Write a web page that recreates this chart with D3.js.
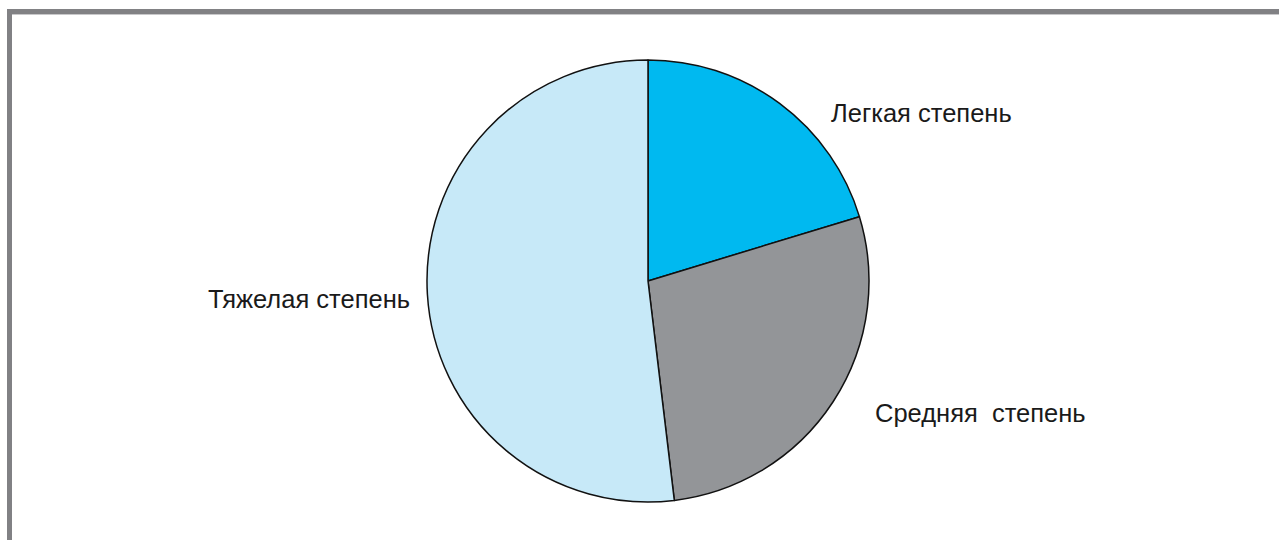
<!DOCTYPE html>
<html>
<head>
<meta charset="utf-8">
<script src="https://cdn.jsdelivr.net/npm/d3@7"></script>
<style>
  html, body { margin: 0; padding: 0; background: #fff; }
  svg { display: block; }
  text { font-family: "Liberation Sans", Arial, Helvetica, sans-serif; fill: #1a1a1a; }
</style>
</head>
<body>
<svg id="chart" width="1279" height="540"></svg>
<script>
// Severity distribution (percent)
const categories = ["Легкая степень", "Средняя  степень", "Тяжелая степень"];
const values = [20.3, 27.8, 51.9];
const colors = ["#00b9f0", "#939598", "#c7e9f8"];

const W = 1279, H = 540;
const cx = 648, cy = 281, R = 221;

const svg = d3.select("#chart");

// Frame: grey bars along the top and left edges
svg.append("rect").attr("x", 7).attr("y", 9).attr("width", W - 7).attr("height", 5).attr("fill", "#818184");
svg.append("rect").attr("x", 12).attr("y", 14).attr("width", W - 12).attr("height", 1).attr("fill", "#c8c8ca");
svg.append("rect").attr("x", 7).attr("y", 9).attr("width", 5).attr("height", H - 9).attr("fill", "#818184");

const pie = d3.pie().sort(null).value(d => d.value);
const arc = d3.arc().innerRadius(0).outerRadius(R);

const data = categories.map((c, i) => ({ name: c, value: values[i], color: colors[i] }));
const arcs = pie(data);

const g = svg.append("g").attr("transform", `translate(${cx},${cy})`);

g.selectAll("path")
  .data(arcs)
  .join("path")
  .attr("d", arc)
  .attr("fill", d => d.data.color)
  .attr("stroke", "#111")
  .attr("stroke-width", 1.5)
  .attr("stroke-linejoin", "round");

// Label placement relative to the pie centre
const labelPos = [
  { dx: 183, dy: -159, anchor: "start" },
  { dx: 227, dy: 141, anchor: "start" },
  { dx: -238, dy: 27, anchor: "end" }
];

g.selectAll("text.label")
  .data(arcs)
  .join("text")
  .attr("class", "label")
  .attr("x", (d, i) => labelPos[i].dx)
  .attr("y", (d, i) => labelPos[i].dy)
  .attr("text-anchor", (d, i) => labelPos[i].anchor)
  .attr("font-size", 25.5)
  .style("white-space", "pre")
  .text(d => d.data.name);
</script>
</body>
</html>
